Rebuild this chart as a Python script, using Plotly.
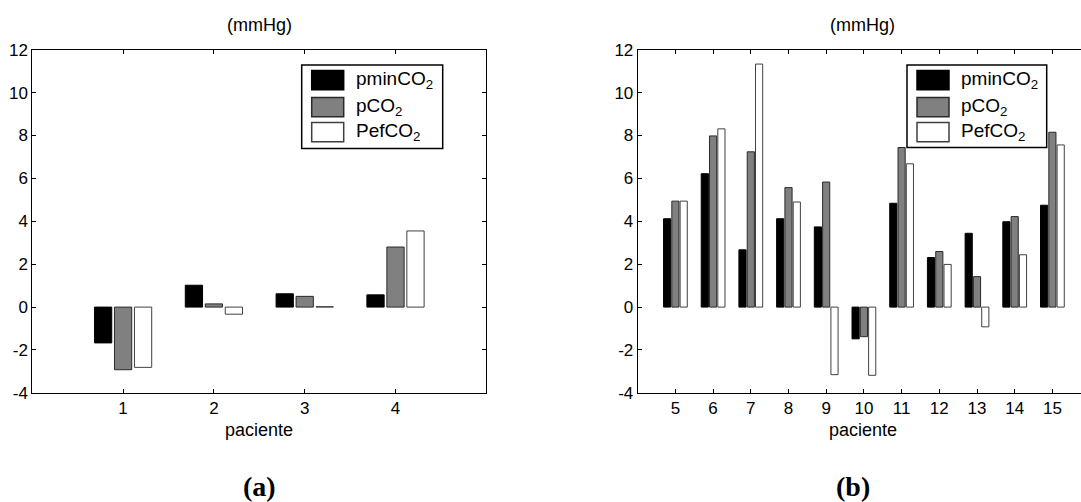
import plotly.graph_objects as go

W, H = 1081, 502

# ---- data ----
patients_a = [1, 2, 3, 4]
pmin_a = [-1.67, 1.02, 0.62, 0.57]
pco2_a = [-2.92, 0.15, 0.50, 2.80]
pef_a = [-2.81, -0.33, 0.02, 3.55]

patients_b = [5, 6, 7, 8, 9, 10, 11, 12, 13, 14, 15]
pmin_b = [4.12, 6.22, 2.67, 4.12, 3.74, -1.48, 4.84, 2.31, 3.44, 3.98, 4.75]
pco2_b = [4.94, 7.98, 7.24, 5.57, 5.83, -1.38, 7.44, 2.59, 1.42, 4.22, 8.15]
pef_b = [4.94, 8.31, 11.33, 4.90, -3.15, -3.18, 6.68, 1.99, -0.92, 2.44, 7.56]

series_names = ["pminCO<sub>2</sub>", "pCO<sub>2</sub>", "PefCO<sub>2</sub>"]
y_ticks = [-4, -2, 0, 2, 4, 6, 8, 10, 12]
y_ticktext = ["-4", "-2", "0", "2", "4", "6", "8", "10", "12"]
x_title = "paciente"
y_unit = "(mmHg)"
panel_labels = ["(a)", "(b)"]

fills = ["#000000", "#808080", "#ffffff"]
edges = ["#000000", "#2a2a2a", "#404040"]

FONT = "Liberation Sans"

def px_x(px):
    return px / W

def px_y(py):
    return 1 - py / H

fig = go.Figure()
for i, vals in enumerate([pmin_a, pco2_a, pef_a]):
    fig.add_trace(go.Bar(x=patients_a, y=vals, name=series_names[i],
                         marker=dict(color=fills[i], line=dict(color=edges[i], width=1)),
                         xaxis="x", yaxis="y", showlegend=False))
for i, vals in enumerate([pmin_b, pco2_b, pef_b]):
    fig.add_trace(go.Bar(x=patients_b, y=vals, name=series_names[i],
                         marker=dict(color=fills[i], line=dict(color=edges[i], width=1)),
                         xaxis="x2", yaxis="y2", showlegend=False))

ydom = [px_y(399), px_y(42.3)]
axis_common = dict(showgrid=False, zeroline=False, showline=True, linecolor="black",
                   linewidth=1, ticks="inside", ticklen=4, tickcolor="black",
                   tickfont=dict(family=FONT, size=17, color="black"))

fig.update_layout(
    width=W, height=H,
    margin=dict(l=0, r=0, t=0, b=0),
    paper_bgcolor="white", plot_bgcolor="white",
    font=dict(family=FONT, size=17, color="black"),
    barmode="group", bargap=0.34, bargroupgap=0.136,
    xaxis=dict(domain=[px_x(32.3), px_x(486.3)], range=[0, 5], tickvals=patients_a,
               mirror="ticks", anchor="y", **axis_common),
    yaxis=dict(domain=ydom, range=[-4, 12], tickvals=y_ticks, ticktext=y_ticktext,
               mirror="ticks", anchor="x", **axis_common),
    xaxis2=dict(domain=[px_x(637.7), 1.0], range=[4, 4 + (W - 637.7) / 37.7],
                tickvals=patients_b, mirror="ticks", anchor="y2", **axis_common),
    yaxis2=dict(domain=ydom, range=[-4, 12], tickvals=y_ticks, ticktext=y_ticktext,
                mirror=False, anchor="x2", **axis_common),
    showlegend=False,
)

annotations = []
shapes = []

# titles, axis titles and panel labels
for cx in [259.3, 862.6]:
    annotations.append(dict(x=px_x(cx), y=px_y(17), xref="paper", yref="paper",
                            xanchor="center", yanchor="middle",
                            text=y_unit, showarrow=False,
                            font=dict(family=FONT, size=18, color="black")))
    annotations.append(dict(x=px_x(cx), y=px_y(438), xref="paper", yref="paper",
                            xanchor="center", yanchor="middle",
                            text=x_title, showarrow=False,
                            font=dict(family=FONT, size=18, color="black")))
for cx, lab in zip([259, 853], panel_labels):
    annotations.append(dict(x=px_x(cx), y=px_y(496), xref="paper", yref="paper",
                            xanchor="center", yanchor="middle",
                            text="<b>" + lab + "</b>", showarrow=False,
                            font=dict(family="Liberation Serif", size=28, color="black")))

# custom legends (box with big swatches)
for (bx0, by0, bx1, by1) in [(301.7, 58.3, 442.7, 145.0), (907.0, 58.3, 1046.7, 144.0)]:
    shapes.append(dict(type="rect", xref="paper", yref="paper",
                       x0=px_x(bx0), x1=px_x(bx1), y0=px_y(by1), y1=px_y(by0),
                       line=dict(color="black", width=1.5), fillcolor="white", layer="above"))
    row_tops = [64, 92, 118]
    for i, rt in enumerate(row_tops):
        rt_abs = rt + (by0 - 58.3)
        sx0 = bx0 + 10
        shapes.append(dict(type="rect", xref="paper", yref="paper",
                           x0=px_x(sx0), x1=px_x(sx0 + 32), y0=px_y(rt_abs + 20), y1=px_y(rt_abs),
                           line=dict(color=edges[i], width=1.5), fillcolor=fills[i], layer="above"))
        annotations.append(dict(x=px_x(sx0 + 42), y=px_y(rt_abs + 10), xref="paper", yref="paper",
                                xanchor="left", yanchor="middle", text=series_names[i],
                                showarrow=False,
                                font=dict(family=FONT, size=19, color="black")))

fig.update_layout(annotations=annotations, shapes=shapes)
fig.write_html("out.html")
